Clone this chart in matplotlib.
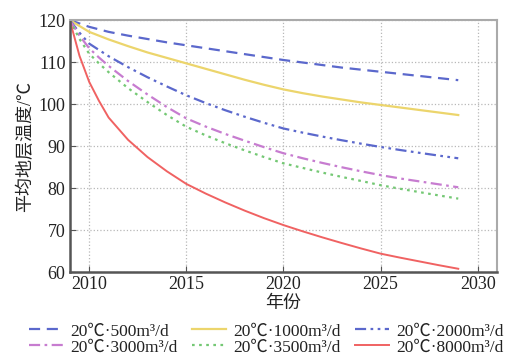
import numpy as np
from matplotlib import pyplot as plt

# Time axis (years); extra half-year points to follow the steep start
years = [2009, 2009.5, 2010, 2010.5] + list(range(2011, 2030))

# Average formation temperature (℃) for each injection rate
temp_500 = [120, 119.2, 118.4, 117.8, 117.2, 116.3, 115.5, 114.7, 114.0, 113.3, 112.6, 111.9,
            111.2, 110.5, 109.9, 109.3, 108.7, 108.2, 107.7, 107.2, 106.7, 106.2, 105.7]
temp_1000 = [120, 118.6, 117.2, 116.3, 115.4, 113.8, 112.3, 111.0, 109.7, 108.4, 107.1, 105.8,
             104.6, 103.5, 102.6, 101.8, 101.1, 100.4, 99.8, 99.2, 98.6, 98.0, 97.4]
temp_2000 = [120, 117.0, 114.4, 112.9, 111.4, 108.8, 106.4, 104.2, 102.1, 100.25, 98.55, 97.0,
             95.55, 94.2, 93.2, 92.27, 91.4, 90.58, 89.8, 89.08, 88.4, 87.74, 87.1]
temp_3000 = [120, 116.3, 113.3, 111.1, 109.1, 105.5, 102.3, 99.3, 96.6, 94.65, 92.9, 91.3,
             89.75, 88.3, 87.1, 86.0, 84.97, 84.0, 83.1, 82.3, 81.6, 80.9, 80.2]
temp_3500 = [120, 115.5, 112.0, 109.7, 107.6, 103.8, 100.5, 97.4, 94.6, 92.55, 90.7, 89.0,
             87.4, 85.9, 84.8, 83.7, 82.67, 81.7, 80.7, 79.85, 79.05, 78.26, 77.5]
temp_8000 = [120, 111.5, 105.3, 100.8, 96.8, 91.5, 87.4, 84.0, 81.0, 78.7, 76.6, 74.65,
             72.85, 71.2, 69.7, 68.28, 66.93, 65.63, 64.4, 63.45, 62.55, 61.65, 60.8]

labels = ['20℃·500m³/d', '20℃·1000m³/d', '20℃·2000m³/d',
          '20℃·3000m³/d', '20℃·3500m³/d', '20℃·8000m³/d']

FONTS = ['Liberation Serif', 'Noto Sans CJK SC']
plt.rcParams['font.family'] = FONTS

fig = plt.figure(figsize=(5.13, 3.59), dpi=100)
ax = fig.add_axes([0.136, 0.242, 0.833, 0.702])

l1, = ax.plot(years, temp_500, color='#5b68cc', lw=1.6, linestyle=(0, (5, 3)))
l2, = ax.plot(years, temp_1000, color='#ecd56c', lw=1.6)
l3, = ax.plot(years, temp_2000, color='#5b68cc', lw=1.6, linestyle=(0, (5, 2, 1.2, 2, 1.2, 2)))
l4, = ax.plot(years, temp_3000, color='#c77cd0', lw=1.6, linestyle=(0, (5, 2, 1.2, 2)))
l5, = ax.plot(years, temp_3500, color='#74c874', lw=1.6, linestyle=(0, (1.2, 2)))
l6, = ax.plot(years, temp_8000, color='#f06262', lw=1.4)

ax.set_xlim(2009, 2031)
ax.set_ylim(60, 120)
ax.set_xticks([2010, 2015, 2020, 2025, 2030])
ax.set_yticks([60, 70, 80, 90, 100, 110, 120])
ax.grid(True, linestyle=':', color='#b8b8b8', lw=0.9)
ax.tick_params(direction='in', length=4, color='#555555', pad=3, labelcolor='#222222')
for lab in ax.get_xticklabels() + ax.get_yticklabels():
    lab.set_family(FONTS)
    lab.set_fontsize(13)

for side in ('left', 'bottom'):
    ax.spines[side].set_color('#555555')
    ax.spines[side].set_linewidth(1.8)
for side in ('top', 'right'):
    ax.spines[side].set_color('#aaaaaa')
    ax.spines[side].set_linewidth(1.5)

ax.set_xlabel('年份', labelpad=1, fontsize=13, family=FONTS, color='#222222')
ax.set_ylabel('平均地层温度/℃', labelpad=3, fontsize=13, family=FONTS, color='#222222')

# matplotlib fills legend columns first, so reorder for row-wise layout
handles = [l1, l4, l2, l5, l3, l6]
leg_labels = [labels[0], labels[3], labels[1], labels[4], labels[2], labels[5]]
leg = ax.legend(handles, leg_labels, loc='upper center', bbox_to_anchor=(0.46, -0.175),
                ncol=3, frameon=False, handlelength=2.0, handletextpad=0.4,
                columnspacing=0.8, labelspacing=0.0, borderaxespad=0,
                prop={'family': FONTS, 'size': 12.5})
for t in leg.get_texts():
    t.set_color('#222222')

fig.savefig('out.png', dpi=100)
